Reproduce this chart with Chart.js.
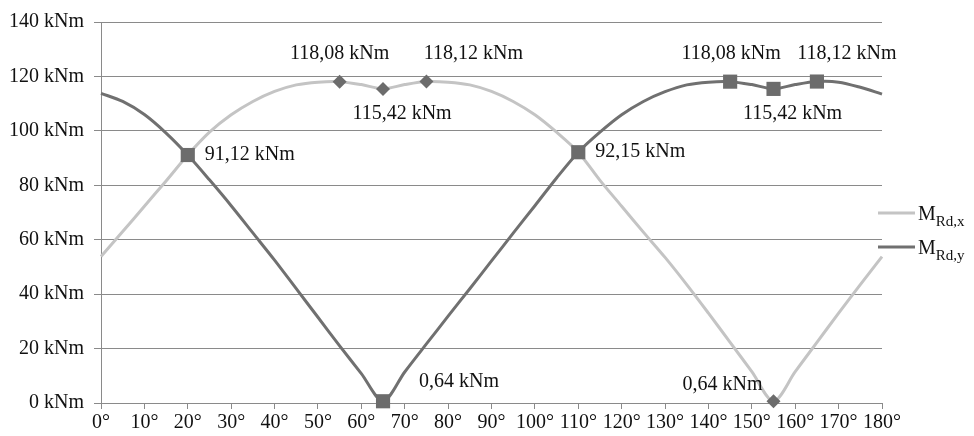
<!DOCTYPE html>
<html>
<head>
<meta charset="utf-8">
<script src="https://cdn.jsdelivr.net/npm/chart.js@4.4.0/dist/chart.umd.min.js"></script>
<style>
  html, body { margin: 0; padding: 0; background: #fff; }
  #wrap { width: 974px; height: 436px; }
</style>
</head>
<body>
<div id="wrap"><canvas id="chart" width="974" height="436"></canvas></div>
<script>
// angle of the neutral axis, degrees
const angles = [0, 5, 10, 15, 20, 25, 30, 35, 40, 45, 50, 55, 60, 65, 70, 75, 80, 85, 90,
  95, 100, 105, 110, 115, 120, 125, 130, 135, 140, 145, 150, 155, 160, 165, 170, 175, 180];

// M_Rd,x [kNm]
const mRdX = [53.8, 63.0, 72.3, 81.6, 91.12, 99.5, 105.9, 110.8, 114.5, 116.9, 117.9, 118.08, 117.0,
  115.42, 117.0, 118.12, 117.9, 116.9, 114.5, 110.8, 105.9, 99.5, 92.15, 81.8, 72.3, 62.8, 53.5,
  43.5, 33.0, 22.3, 11.5, 0.64, 11.5, 22.3, 33.0, 43.5, 53.8];

// M_Rd,y [kNm]
const mRdY = [113.8, 110.8, 106.0, 99.2, 91.12, 82.0, 72.5, 62.5, 52.5, 42.0, 31.5, 21.0, 10.8,
  0.64, 11.4, 21.7, 31.9, 42.0, 52.2, 62.4, 72.5, 82.7, 92.15, 99.5, 105.9, 110.8, 114.4, 116.9,
  117.9, 118.08, 117.0, 115.42, 117.0, 118.12, 117.9, 116.0, 113.5];

// angles that carry a marker and a value label
const markedX = [55, 65, 75, 155];
const markedY = [20, 65, 110, 145, 155, 165];

const seriesNames = ['M', 'M'];
const seriesSubs = ['Rd,x', 'Rd,y'];

const LIGHT = '#c4c4c4';
const DARK = '#707070';
const MARK = '#6c6c6c';
const FONT = '"Liberation Serif", "Times New Roman", serif';

const toPoints = vals => angles.map((a, i) => ({ x: a, y: vals[i] }));
const fmt = v => v.toFixed(2).replace('.', ',') + ' kNm';

// label placement per marked point (offset from marker, text alignment)
const labelPlace = {
  x55: [0, -28, 'center'],
  x65: [19, 25, 'center'],
  x75: [47, -28, 'center'],
  x155: [-11, -17, 'right'],
  y20: [17, 0, 'left'],
  y65: [36, -20, 'left'],
  y110: [17, 0, 'left'],
  y145: [1, -28, 'center'],
  y155: [19, 25, 'center'],
  y165: [30, -28, 'center'],
};

const valueLabels = {
  id: 'valueLabels',
  afterDatasetsDraw(chart) {
    const { ctx, scales } = chart;
    ctx.save();
    ctx.font = '20px ' + FONT;
    ctx.fillStyle = '#111';
    ctx.textBaseline = 'middle';
    const put = (key, angle, vals) => {
      const v = vals[angles.indexOf(angle)];
      const p = labelPlace[key + angle];
      ctx.textAlign = p[2];
      ctx.fillText(fmt(v), scales.x.getPixelForValue(angle) + p[0], scales.y.getPixelForValue(v) + p[1]);
    };
    markedX.forEach(a => put('x', a, mRdX));
    markedY.forEach(a => put('y', a, mRdY));

    // legend with subscripts
    const colors = [LIGHT, DARK];
    const rows = [213, 247];
    const lx = chart.chartArea.right - 4;
    rows.forEach((y, i) => {
      ctx.strokeStyle = colors[i];
      ctx.lineWidth = 3;
      ctx.beginPath();
      ctx.moveTo(lx, y);
      ctx.lineTo(lx + 37, y);
      ctx.stroke();
      ctx.textAlign = 'left';
      ctx.textBaseline = 'alphabetic';
      ctx.font = '20px ' + FONT;
      ctx.fillText(seriesNames[i], lx + 40, y + 7);
      const w = ctx.measureText(seriesNames[i]).width;
      ctx.font = '15px ' + FONT;
      ctx.fillText(seriesSubs[i], lx + 40 + w, y + 13);
    });
    ctx.restore();
  }
};

new Chart(document.getElementById('chart'), {
  type: 'line',
  data: {
    datasets: [
      {
        label: 'M Rd,y',
        data: toPoints(mRdY),
        borderColor: DARK,
        borderWidth: 3,
        tension: 0.3,
        pointStyle: 'rect',
        pointRadius: c => markedY.includes(c.raw.x) ? 10 : 0,
        pointBackgroundColor: MARK,
        pointBorderColor: MARK,
        pointBorderWidth: 0,
        clip: false,
      },
      {
        label: 'M Rd,x',
        data: toPoints(mRdX),
        borderColor: LIGHT,
        borderWidth: 3,
        tension: 0.3,
        pointStyle: 'rectRot',
        pointRadius: c => markedX.includes(c.raw.x) ? 7 : 0,
        pointBackgroundColor: MARK,
        pointBorderColor: MARK,
        pointBorderWidth: 0,
        clip: false,
      },
    ],
  },
  options: {
    responsive: false,
    animation: false,
    layout: { padding: { top: 22, right: 92, left: 0, bottom: 0 } },
    plugins: { legend: { display: false }, tooltip: { enabled: false } },
    scales: {
      x: {
        type: 'linear',
        min: 0,
        max: 180,
        afterFit: s => { s.height = 33; },
        ticks: {
          stepSize: 10,
          autoSkip: false,
          maxRotation: 0,
          padding: 2,
          color: '#111',
          font: { family: FONT, size: 20 },
          callback: v => v + '°',
        },
        grid: { drawOnChartArea: false, drawTicks: true, tickLength: 6, color: '#8a8a8a' },
        border: { color: '#8a8a8a', width: 1 },
      },
      y: {
        min: 0,
        max: 140,
        afterFit: s => { s.width = 101; },
        ticks: {
          stepSize: 20,
          padding: 10,
          color: '#111',
          font: { family: FONT, size: 20 },
          callback: v => v + ' kNm',
        },
        grid: { color: '#8a8a8a', tickLength: 7 },
        border: { color: '#8a8a8a', width: 1 },
      },
    },
  },
  plugins: [valueLabels],
});
</script>
</body>
</html>
